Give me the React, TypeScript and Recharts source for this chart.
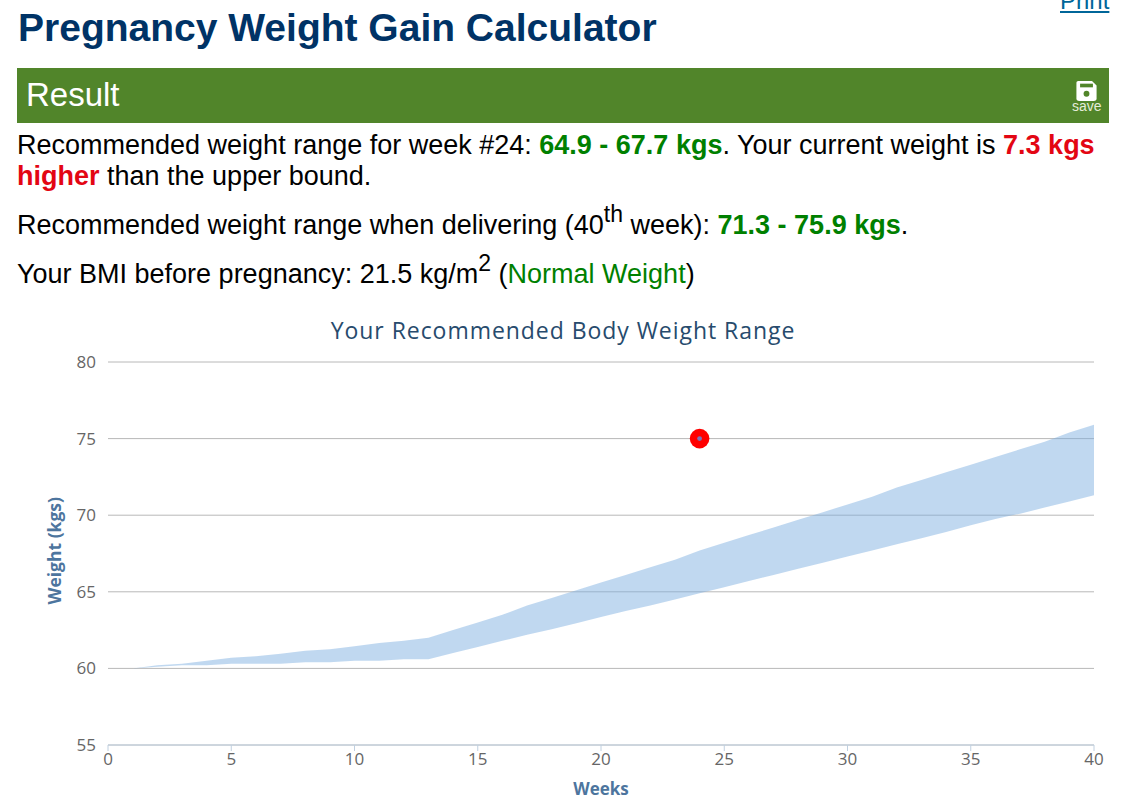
import React from 'react';
import { ComposedChart, Area, Scatter, XAxis, YAxis, CartesianGrid } from 'recharts';

const weeks = [1, 2, 3, 4, 5, 6, 7, 8, 9, 10, 11, 12, 13, 14, 15, 16, 17, 18, 19, 20, 21, 22, 23, 24, 25, 26, 27, 28, 29, 30, 31, 32, 33, 34, 35, 36, 37, 38, 39, 40];
const lowBound = [60, 60.1, 60.2, 60.2, 60.3, 60.3, 60.3, 60.4, 60.4, 60.5, 60.5, 60.6, 60.6, 61, 61.4, 61.8, 62.2, 62.55, 62.95, 63.35, 63.75, 64.1, 64.5, 64.9, 65.3, 65.7, 66.1, 66.5, 66.9, 67.3, 67.7, 68.1, 68.5, 68.9, 69.35, 69.75, 70.1, 70.5, 70.9, 71.3];
const highBound = [60, 60.2, 60.3, 60.5, 60.7, 60.8, 60.95, 61.15, 61.25, 61.45, 61.65, 61.8, 62, 62.5, 63, 63.5, 64.1, 64.6, 65.1, 65.6, 66.1, 66.6, 67.1, 67.7, 68.2, 68.7, 69.2, 69.7, 70.2, 70.7, 71.2, 71.8, 72.3, 72.8, 73.3, 73.8, 74.3, 74.8, 75.4, 75.9];
const currentWeight = [{ week: 24, weight: 75 }];
const xTicks = [0, 5, 10, 15, 20, 25, 30, 35, 40];
const yTicks = [55, 60, 65, 70, 75, 80];

const rangeData = weeks.map((week, i) => ({ week, range: [lowBound[i], highBound[i]] }));

const chartFont = '"Open Sans", sans-serif';

const green = { color: '#008000', fontWeight: 700 };
const red = { color: '#e30613', fontWeight: 700 };
const lineStyle: React.CSSProperties = { position: 'absolute', left: 17, whiteSpace: 'nowrap', fontSize: 27, lineHeight: '30px', color: '#000' };
const sup: React.CSSProperties = { fontSize: 23, position: 'relative', top: -12, lineHeight: 0 };

const CurrentDot = (props: any) => (
  <g>
    <circle cx={props.cx} cy={props.cy} r={9.8} fill="#ff0000" />
    <circle cx={props.cx} cy={props.cy} r={2.4} fill="#7d74b8" />
  </g>
);

export default function App() {
  return (
    <div style={{ position: 'absolute', left: 0, top: 0, width: 1128, height: 799, overflow: 'hidden', background: '#fff', fontFamily: '"Liberation Sans", Arial, sans-serif' }}>
      <div style={{ position: 'absolute', left: 18, top: 5, fontSize: 39, lineHeight: '46px', fontWeight: 700, color: '#003366', whiteSpace: 'nowrap' }}>
        Pregnancy Weight Gain Calculator
      </div>
      <div style={{ position: 'absolute', left: 1060, top: -11, fontSize: 24, lineHeight: '24px', color: '#006699', textDecoration: 'underline' }}>Print</div>

      <div style={{ position: 'absolute', left: 17, top: 68, width: 1092, height: 55, background: '#51852a' }}>
        <div style={{ position: 'absolute', left: 9, top: 7, fontSize: 33, lineHeight: '40px', color: '#fff' }}>Result</div>
        <svg style={{ position: 'absolute', left: 1058, top: 12 }} width={23} height={22} viewBox="0 0 24 24">
          <path d="M3 1 H18 L23 6 V20 a3 3 0 0 1 -3 3 H4 a3 3 0 0 1 -3 -3 V3 a2 2 0 0 1 2 -2 Z" fill="#fff" />
          <rect x={5} y={4} width={14} height={4} fill="#51852a" />
          <circle cx={12} cy={15} r={3.2} fill="#51852a" />
        </svg>
        <div style={{ position: 'absolute', left: 1055, top: 30, fontSize: 14, lineHeight: '16px', color: '#e4ecd8' }}>save</div>
      </div>

      <div style={{ ...lineStyle, top: 130 }}>
        Recommended weight range for week #24: <span style={green}>64.9 - 67.7 kgs</span>. Your current weight is <span style={red}>7.3 kgs</span>
      </div>
      <div style={{ ...lineStyle, top: 161 }}>
        <span style={red}>higher</span> than the upper bound.
      </div>
      <div style={{ ...lineStyle, top: 210 }}>
        Recommended weight range when delivering (40<span style={sup}>th</span> week): <span style={green}>71.3 - 75.9 kgs</span>.
      </div>
      <div style={{ ...lineStyle, top: 259 }}>
        Your BMI before pregnancy: 21.5 kg/m<span style={sup}>2</span> (<span style={{ color: '#008000' }}>Normal Weight</span>)
      </div>

      <div style={{ position: 'absolute', left: 0, top: 300 }}>
        <ComposedChart
          width={1128}
          height={499}
          data={rangeData}
          margin={{ top: 62, right: 34, left: 48, bottom: 24 }}
        >
          <text x={563} y={39} textAnchor="middle" fontFamily={chartFont} fontSize={23} letterSpacing={0.95} fill="#274b6d">
            Your Recommended Body Weight Range
          </text>
          <CartesianGrid vertical={false} stroke="#b8b8b8" strokeWidth={1} />
          <XAxis
            dataKey="week"
            type="number"
            domain={[0, 40]}
            ticks={xTicks}
            interval={0}
            height={30}
            stroke="#c0d0e0"
            tickSize={6}
            tick={{ fontFamily: chartFont, fontSize: 17, fill: '#666' }}
            label={{ value: 'Weeks', position: 'insideBottom', offset: -20, fontFamily: chartFont, fontSize: 17, fontWeight: 700, fill: '#4d759e' }}
          />
          <YAxis
            type="number"
            domain={[55, 80]}
            ticks={yTicks}
            interval={0}
            width={60}
            axisLine={false}
            tickLine={false}
            tickMargin={6}
            tick={{ fontFamily: chartFont, fontSize: 17, fill: '#666' }}
            label={{ value: 'Weight (kgs)', angle: -90, position: 'insideLeft', offset: 7, dy: 51, fontFamily: chartFont, fontSize: 17.5, fontWeight: 700, fill: '#4d759e' }}
          />
          <Area dataKey="range" type="linear" stroke="none" fill="#7cade0" fillOpacity={0.48} dot={false} activeDot={false} isAnimationActive={false} />
          <Scatter data={currentWeight} dataKey="weight" shape={CurrentDot} isAnimationActive={false} />
        </ComposedChart>
      </div>
    </div>
  );
}
